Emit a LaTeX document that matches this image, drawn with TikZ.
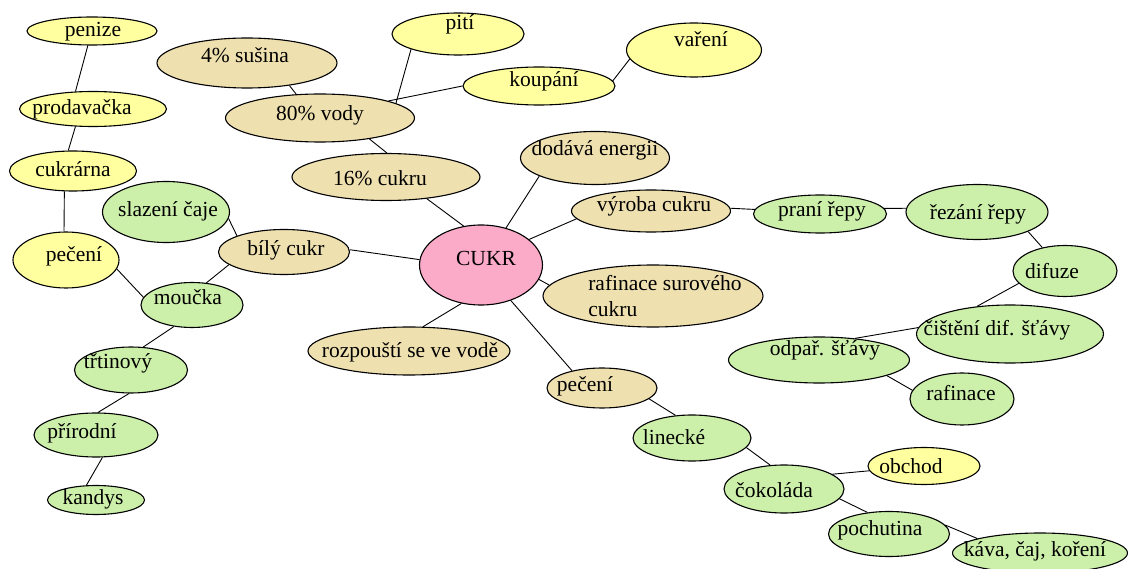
\documentclass[tikz,border=0pt]{standalone}
\usepackage{fontspec}
\setmainfont{Liberation Serif}
\usetikzlibrary{shapes.geometric}

\definecolor{bubyellow}{HTML}{FFFF9F}
\definecolor{bubtan}{HTML}{EFE0B0}
\definecolor{bubgreen}{HTML}{CCF0AA}
\definecolor{bubpink}{HTML}{FBAAC8}

\tikzset{
  bub/.style={ellipse, draw=black, line width=1.1pt, inner sep=0pt},
  ybub/.style={bub, fill=bubyellow},
  tbub/.style={bub, fill=bubtan},
  gbub/.style={bub, fill=bubgreen},
  pbub/.style={bub, fill=bubpink},
  con/.style={black, line width=0.9pt}
}

\begin{document}
\begin{tikzpicture}[x=1pt, y=-1pt, font=\fontsize{21.5}{26}\selectfont]
        \useasboundingbox (0,0) rectangle (1128,569);

        % left branch
        \node[ybub, minimum width=130, minimum height=28, label={[shift={(1,1)}]center:penize}] (penize) at (92,31) {};
        \node[ybub, minimum width=147, minimum height=35, label={[shift={(-11,0)}]center:prodavačka}] (prodavacka) at (93,109) {};
        \node[ybub, minimum width=127, minimum height=40, label={[shift={(0,-2)}]center:cukrárna}] (cukrarna) at (73,171) {};
        \node[ybub, minimum width=106, minimum height=56, label={[shift={(8,-4)}]center:pečení}] (pecenia) at (66,260) {};
        \node[gbub, minimum width=127, minimum height=61, label={[shift={(2,-1)}]center:slazení čaje}] (slazeni) at (166,212) {};
        \node[tbub, minimum width=131, minimum height=45, label={[shift={(2,-2)}]center:bílý cukr}] (bily) at (284,252) {};
        \node[gbub, minimum width=102, minimum height=45, label={[shift={(-4,-8)}]center:moučka}] (moucka) at (192,305) {};
        \node[gbub, minimum width=113, minimum height=46, label={[shift={(-13,-7)}]center:třtinový}] (trtinovy) at (131,370) {};
        \node[gbub, minimum width=124, minimum height=44, label={[shift={(-14,-2)}]center:přírodní}] (prirodni) at (96,435) {};
        \node[gbub, minimum width=97, minimum height=29, label={[shift={(-3,-1)}]center:kandys}] (kandys) at (96,500) {};

        % top branch
        \node[tbub, minimum width=180, minimum height=50, label={[shift={(-2,-8)}]center:4\% sušina}] (susina) at (247,63) {};
        \node[tbub, minimum width=189, minimum height=48, label={[shift={(0,-3)}]center:80\% vody}] (vody) at (320,118) {};
        \node[tbub, minimum width=188, minimum height=47, label={[shift={(-6,1)}]center:16\% cukru}] (cukru16) at (386,177) {};
        \node[ybub, minimum width=132, minimum height=42, label={[shift={(2,-10)}]center:pití}] (piti) at (458,34) {};
        \node[ybub, minimum width=135, minimum height=54, label={[shift={(7,-11)}]center:vaření}] (vareni) at (694,50) {};
        \node[ybub, minimum width=152, minimum height=38, label={[shift={(5,-5)}]center:koupání}] (koupani) at (539,86) {};
        \node[tbub, minimum width=149, minimum height=53, label={[shift={(0,-8)}]center:dodává energii}] (energie) at (595,158) {};

        % centre
        \node[pbub, minimum width=123, minimum height=80, label={[shift={(5,-7)}]center:CUKR}] (cukr) at (481,265) {};
        \node[tbub, minimum width=159, minimum height=42, label={[shift={(3,-5)}]center:výroba cukru}] (vyroba) at (651,211) {};
        \node[tbub, minimum width=220, minimum height=62, label={[shift={(12,0)}, align=left]center:rafinace surového\\cukru}] (surovy) at (653,296) {};
        \node[tbub, minimum width=202, minimum height=48, label={[shift={(1,1)}]center:rozpouští se ve vodě}] (rozpousti) at (409,351) {};
        \node[tbub, minimum width=110, minimum height=40, label={[shift={(-17,-2)}]center:pečení}] (pecenib) at (602,388) {};

        % right branch
        \node[gbub, minimum width=133, minimum height=38, label={[shift={(2,-3)}]center:praní řepy}] (pranirepy) at (820,214) {};
        \node[gbub, minimum width=142, minimum height=55, label={[shift={(1,2)}]center:řezání řepy}] (rezani) at (977,212) {};
        \node[gbub, minimum width=104, minimum height=51, label={[shift={(-13,0)}]center:difuze}] (difuze) at (1065,271) {};
        \node[gbub, minimum width=187, minimum height=58, label={[shift={(-13,-4)}]center:čištění dif. šťávy}] (cisteni) at (1010,334) {};
        \node[gbub, minimum width=181, minimum height=46, label={[shift={(6,-10)}]center:odpař. šťávy}] (odpar) at (819,360) {};
        \node[gbub, minimum width=104, minimum height=52, label={[shift={(-1,-6)}]center:rafinace}] (rafinace) at (962,399) {};

        % bottom branch
        \node[gbub, minimum width=118, minimum height=46, label={[shift={(-18,-1)}]center:linecké}] (linecke) at (692,438) {};
        \node[gbub, minimum width=120, minimum height=48, label={[shift={(-10,1)}]center:čokoláda}] (cokolada) at (784,489) {};
        \node[ybub, minimum width=112, minimum height=37, label={[shift={(-13,0)}]center:obchod}] (obchod) at (924,466) {};
        \node[gbub, minimum width=121, minimum height=45, label={[shift={(-9,-4)}]center:pochutina}] (pochutina) at (889,534) {};
        \node[gbub, minimum width=175, minimum height=40, label={[shift={(-5,-2)}]center:káva, čaj, koření}] (kava) at (1040,553) {};

        % connectors
        \draw[con] (penize.254) -- (prodavacka.135);
        \draw[con] (prodavacka.225) -- (cukrarna.103);
        \draw[con] (cukrarna.247) -- (pecenia.94);
        \draw[con] (pecenia.350) -- (moucka.171);
        \draw[con] (moucka.57) -- (bily.193);
        \draw[con] (slazeni.354) -- (bily.161);
        \draw[con] (bily.2) -- (cukr.175);
        \draw[con] (moucka.230) -- (trtinovy.62);
        \draw[con] (trtinovy.265) -- (prirodni.85);
        \draw[con] (prirodni.286) -- (kandys.123);

        \draw[con] (susina.332) -- (vody.135);
        \draw[con] (vody.337) -- (cukru16.88);
        \draw[con] (vody.11) -- (piti.198);
        \draw[con] (vody.14) -- (koupani.180);
        \draw[con] (koupani.4) -- (vareni.188);
        \draw[con] (cukru16.332) -- (cukr.114);
        \draw[con] (energie.198) -- (cukr.56);

        \draw[con] (cukr.28) -- (vyroba.186);
        \draw[con] (cukr.346) -- (surovy.174);
        \draw[con] (cukr.243) -- (rozpousti.60);
        \draw[con] (cukr.310) -- (pecenib.150);

        \draw[con] (vyroba.2) -- (pranirepy.176);
        \draw[con] (pranirepy.5) -- (rezani.177);
        \draw[con] (rezani.339) -- (difuze.134);
        \draw[con] (difuze.195) -- (cisteni.140);
        \draw[con] (cisteni.176) -- (odpar.31);
        \draw[con] (odpar.347) -- (rafinace.170);

        \draw[con] (pecenib.347) -- (linecke.126);
        \draw[con] (linecke.350) -- (cokolada.120);
        \draw[con] (cokolada.17) -- (obchod.185);
        \draw[con] (cokolada.350) -- (pochutina.135);
        \draw[con] (pochutina.9) -- (kava.167);
    \end{tikzpicture}
\end{document}
